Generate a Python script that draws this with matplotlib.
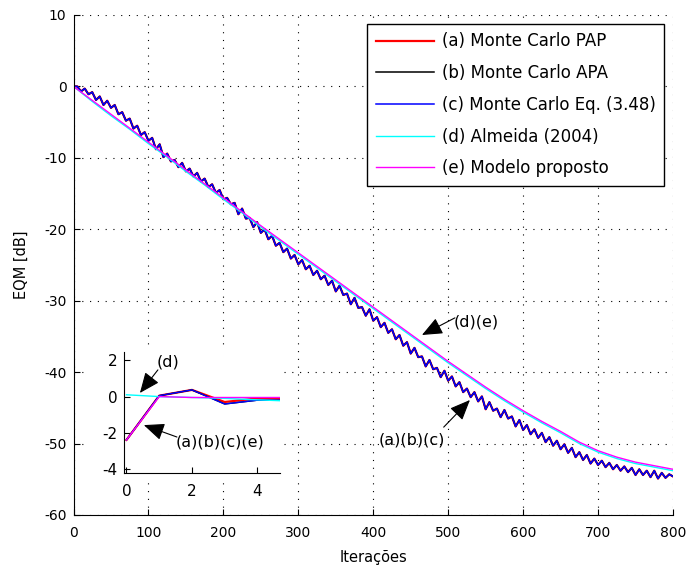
import numpy as np
import matplotlib
matplotlib.use('Agg')
import matplotlib.pyplot as plt
from matplotlib.patches import Rectangle

## EQM curves: Monte Carlo vs. models
# Values

# Main plot: Monte Carlo curves, one point every 5 iterations
mc_step = 5
mc_db = [0.0, 0.0, -0.7, -0.3, -1.1, -0.8, -1.9, -1.4, -2.6, -2.0,
         -3.0, -2.6, -3.9, -3.6, -4.8, -4.5, -5.9, -5.5, -6.8, -6.4,
         -7.6, -7.2, -8.8, -8.1, -9.9, -9.4, -10.5, -10.3, -11.3, -10.7,
         -11.9, -11.5, -12.6, -12.1, -13.3, -12.9, -14.1, -13.7, -14.9, -14.5,
         -15.8, -15.6, -16.5, -16.3, -17.9, -17.1, -18.5, -18.4, -19.7, -19.0,
         -20.5, -20.0, -21.4, -20.9, -22.3, -21.9, -23.2, -22.7, -24.1, -23.6,
         -24.9, -24.3, -25.6, -25.1, -26.4, -25.8, -27.0, -26.5, -27.8, -27.2,
         -28.7, -27.9, -29.2, -29.0, -30.5, -29.6, -31.0, -30.9, -32.1, -31.2,
         -32.8, -32.3, -33.7, -33.1, -34.5, -34.0, -35.4, -34.8, -36.3, -35.8,
         -37.4, -36.6, -37.9, -37.8, -39.2, -38.3, -39.6, -39.4, -40.7, -39.8,
         -41.2, -40.6, -42.0, -41.4, -42.8, -42.3, -43.5, -42.8, -44.1, -43.4,
         -45.2, -44.2, -45.4, -45.1, -46.3, -45.3, -46.5, -46.2, -47.6, -46.7,
         -48.1, -47.4, -48.7, -48.0, -49.2, -48.5, -49.8, -49.1, -50.3, -49.6,
         -50.8, -50.1, -51.3, -50.6, -51.9, -51.2, -52.3, -51.6, -52.8, -52.1,
         -53.0, -52.4, -53.3, -52.7, -53.6, -53.0, -53.8, -53.2, -54.0, -53.4,
         -54.4, -53.6, -54.4, -53.8, -54.7, -53.8, -54.9, -54.1, -54.8, -54.3,
         -54.6]

# Main plot: theoretical curves, one point every 25 iterations
model_step = 25
almeida_db = [0.0, -2.1, -4.1, -6.0, -8.0, -9.9, -11.9, -13.8, -15.8, -17.7,
              -19.7, -21.6, -23.5, -25.4, -27.3, -29.2, -31.1, -33.0, -34.9,
              -36.8, -38.7, -40.5, -42.3, -44.0, -45.6, -47.1, -48.5, -50.0,
              -51.2, -52.1, -52.8, -53.3, -53.8]
modelo_db = [0.0, -1.95, -3.9, -5.85, -7.8, -9.75, -11.7, -13.65, -15.6, -17.55,
             -19.5, -21.4, -23.3, -25.2, -27.1, -29.0, -30.9, -32.8, -34.7,
             -36.6, -38.5, -40.3, -42.1, -43.8, -45.4, -46.9, -48.3, -49.8,
             -51.0, -51.9, -52.6, -53.1, -53.6]

# Inset: first iterations
it_zoom = [0, 1, 2, 3, 4, 5]
pap_zoom = [-2.4, 0.05, 0.37, -0.3, -0.1, -0.1]
apa_zoom = [-2.4, 0.05, 0.37, -0.41, -0.2, -0.2]
eq_zoom = [-2.4, 0.05, 0.37, -0.41, -0.2, -0.2]
almeida_zoom = [0.1, 0.0, -0.05, -0.1, -0.18, -0.25]
modelo_zoom = [-2.4, 0.0, -0.05, -0.05, -0.05, -0.05]

labels = ['(a) Monte Carlo PAP', '(b) Monte Carlo APA', '(c) Monte Carlo Eq. (3.48)',
          '(d) Almeida (2004)', '(e) Modelo proposto']
colors = ['#ff0000', '#000000', '#0000ff', '#00ffff', '#ff00ff']


def main():
    plt.rcParams['font.family'] = ['DejaVu Sans']
    plt.rcParams['font.size'] = 10.5
    plt.rcParams['axes.unicode_minus'] = False
    W, H = 686., 572.
    fig = plt.figure(figsize=(W/100, H/100), dpi=100)
    ax = fig.add_axes([73.5/W, 1 - 515/H, (673 - 73.5)/W, 500/H])

    n_mc = np.arange(len(mc_db))*mc_step
    n_mod = np.arange(len(modelo_db))*model_step
    ax.plot(n_mc, mc_db, color=colors[0], lw=1.6, label=labels[0])
    ax.plot(n_mc, mc_db, color=colors[1], lw=1.1, label=labels[1])
    ax.plot(n_mc, mc_db, color=colors[2], lw=1.1, label=labels[2])
    ax.plot(n_mod, almeida_db, color=colors[3], lw=1.0, label=labels[3])
    ax.plot(n_mod, modelo_db, color=colors[4], lw=1.0, label=labels[4])

    ax.set_xlim(0, 800)
    ax.set_ylim(-60, 10)
    ax.set_xticks(np.arange(0, 801, 100))
    ax.set_yticks(np.arange(-60, 11, 10))
    ax.grid(True, color='k', linestyle=(0, (1, 6)), linewidth=0.8)
    ax.spines['top'].set_visible(False)
    ax.spines['right'].set_visible(False)
    ax.tick_params(direction='in', length=4, top=False, right=False, labelsize=10)
    ax.tick_params(axis='x', pad=8)
    ax.tick_params(axis='y', pad=5)
    ax.set_xlabel('Iterações', labelpad=7)
    ax.set_ylabel('EQM [dB]', labelpad=11)

    leg = ax.legend(loc='upper right', fontsize=12, handlelength=3.5,
                    handletextpad=0.45, labelspacing=0.82, borderaxespad=0.55,
                    fancybox=False, framealpha=1, edgecolor='k', borderpad=0.5)
    leg.get_frame().set_linewidth(1.0)

    # arrows in the main plot
    arw = dict(arrowstyle='-|>,head_length=0.9,head_width=0.38', color='k',
               lw=0.8, mutation_scale=14, shrinkA=0, shrinkB=0)
    ax.annotate('', xy=(465, -34.8), xytext=(509, -32.4), arrowprops=arw)
    ax.text(538, -33.0, '(d)(e)', ha='center', va='center', fontsize=11.5)
    ax.annotate('', xy=(529, -43.9), xytext=(494, -47.7), arrowprops=arw)
    ax.text(451, -49.5, '(a)(b)(c)', ha='center', va='center', fontsize=11.5)

    # white area behind the inset
    fig.add_artist(Rectangle((90/W, 1 - 478/H), (283 - 90)/W, (478 - 345)/H,
                             transform=fig.transFigure, facecolor='white',
                             edgecolor='none', zorder=2))

    axi = fig.add_axes([124.3/W, 1 - 473.3/H, (280 - 124.3)/W, (473.3 - 352)/H])
    axi.set_zorder(3)
    axi.plot(it_zoom, pap_zoom, color=colors[0], lw=1.6)
    axi.plot(it_zoom, apa_zoom, color=colors[1], lw=1.0)
    axi.plot(it_zoom, eq_zoom, color=colors[2], lw=1.0)
    axi.plot(it_zoom, almeida_zoom, color=colors[3], lw=1.0)
    axi.plot(it_zoom, modelo_zoom, color=colors[4], lw=1.0)
    axi.set_xlim(-0.067, 4.69)
    axi.set_ylim(-4.25, 2.47)
    axi.set_xticks([0, 2, 4])
    axi.set_yticks([-4, -2, 0, 2])
    axi.spines['top'].set_visible(False)
    axi.spines['right'].set_visible(False)
    axi.tick_params(direction='in', length=4, labelsize=11)
    axi.tick_params(axis='x', pad=8)
    axi.tick_params(axis='y', pad=5)
    axi.annotate('', xy=(0.41, 0.2), xytext=(0.96, 1.48), arrowprops=arw)
    axi.text(1.27, 1.92, '(d)', ha='center', va='center', fontsize=11.5)
    axi.annotate('', xy=(0.53, -1.58), xytext=(1.54, -2.24), arrowprops=arw)
    axi.text(2.85, -2.53, '(a)(b)(c)(e)', ha='center', va='center', fontsize=11.5)

    fig.savefig('out.png', dpi=100)


if __name__ == "__main__":
    main()
